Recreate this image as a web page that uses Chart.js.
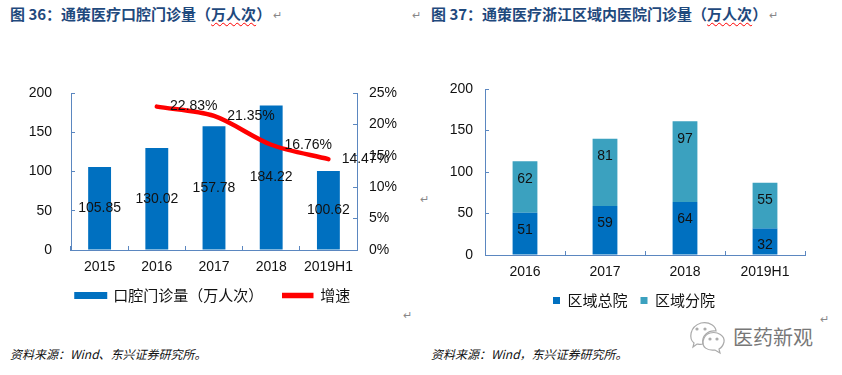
<!DOCTYPE html>
<html lang="zh">
<head>
<meta charset="utf-8">
<title>通策医疗门诊量</title>
<script src="https://cdn.jsdelivr.net/npm/chart.js@4/dist/chart.umd.min.js"></script>
<style>
  html, body { margin: 0; padding: 0; background: #fff; }
  body { position: relative; width: 842px; height: 375px; overflow: hidden; font-family: "Noto Sans CJK SC", sans-serif; }
  canvas { position: absolute; top: 60px; }
  #chart36 { left: 0; }
  #chart37 { left: 440px; }
  .title { position: absolute; top: 4px; font-size: 15px; line-height: 20px; font-weight: 700; color: #1f497d; white-space: nowrap; }
  .title span { text-decoration: underline wavy #ff0000 1px; text-underline-offset: 2px; }
  .source { position: absolute; top: 345px; font-size: 12px; line-height: 18px; font-style: italic; color: #111; white-space: nowrap; }
  .mark { position: absolute; font-size: 11px; line-height: 12px; color: #888; }
  .brand { position: absolute; left: 733px; top: 323px; font-size: 20px; line-height: 28px; color: #777; white-space: nowrap; }
  svg { position: absolute; left: 688px; top: 320px; }
</style>
</head>
<body>
<div class="title" style="left:10px">图 36：通策医疗口腔门诊量（<span>万人次</span>）</div>
<div class="title" style="left:431px">图 37：通策医疗浙江区域内医院门诊量（<span>万人次</span>）</div>
<div class="mark" style="left:273px;top:8px">↵</div>
<div class="mark" style="left:412px;top:8px">↵</div>
<div class="mark" style="left:769px;top:8px">↵</div>
<div class="mark" style="left:403px;top:308px">↵</div>
<div class="mark" style="left:820px;top:312px">↵</div>
<div class="mark" style="left:420px;top:192px">↵</div>
<canvas id="chart36" width="426" height="253"></canvas>
<canvas id="chart37" width="388" height="258"></canvas>
<div class="source" style="left:10px">资料来源：Wind、东兴证券研究所。</div>
<div class="source" style="left:431px">资料来源：Wind，东兴证券研究所。</div>
<svg width="40" height="36" viewBox="0 0 40 36" fill="none" stroke="#aaa" stroke-width="1.2">
  <path d="M6 23 C1 19 1 7 13 3 C22 1 28 7 28 11 C20 10 13 16 15 24 C12 25 10 24 9 24 L5 27 Z"/>
  <path d="M22 13 C30 11 37 16 36 22 C35 26 33 28 31 29 L32 33 L27 30 C19 31 14 27 15 21 C16 17 18 14 22 13 Z"/>
  <circle cx="9" cy="9" r="1" fill="#aaa"/><circle cx="17" cy="9" r="1" fill="#aaa"/>
  <circle cx="22" cy="19" r="1" fill="#aaa"/><circle cx="29" cy="19" r="1" fill="#aaa"/>
</svg>
<div class="brand">医药新观</div>

<script>
// values
const years36 = ['2015', '2016', '2017', '2018', '2019H1'];
const visits36 = [105.85, 130.02, 157.78, 184.22, 100.62];
const growth36 = [null, 22.83, 21.35, 16.76, 14.47];

const years37 = ['2016', '2017', '2018', '2019H1'];
const mainHospital = [51, 59, 64, 32];
const branchHospital = [62, 81, 97, 55];

const AXIS = '#5b87c0';
const CJK = '"Noto Sans CJK SC", sans-serif';
const NUMS = '"Liberation Sans", Arial, sans-serif';
const NUM_SIZE = 14;

// y axis with inward ticks, fixed width so the plot lands where it should
function valueAxis(position, width, max, step, pad, fmt) {
    return {
        position, min: 0, max,
        afterFit: s => { s.width = width; },
        border: { color: AXIS },
        grid: { drawOnChartArea: false, tickLength: -4, tickColor: AXIS },
        ticks: { stepSize: step, padding: pad, color: '#111', font: { family: NUMS, size: NUM_SIZE }, callback: fmt },
    };
}

// labels get clipped to the axis box, so height has to cover them
function categoryAxis(height, stacked) {
    return {
        stacked,
        afterFit: s => { s.height = height; },
        border: { color: AXIS },
        grid: { drawOnChartArea: false, tickLength: -4, tickColor: AXIS },
        ticks: { padding: 13, color: '#111', maxRotation: 0, font: { family: NUMS, size: NUM_SIZE } },
    };
}

// data labels, placed from the elements the library laid out
const valueLabels = {
    id: 'valueLabels',
    afterDatasetsDraw(chart, args, opts) {
        const ctx = chart.ctx;
        ctx.save();
        ctx.fillStyle = '#111';
        ctx.font = NUM_SIZE + 'px ' + NUMS;
        ctx.textAlign = 'center';
        ctx.textBaseline = 'middle';
        chart.data.datasets.forEach((ds, i) => {
            const meta = chart.getDatasetMeta(i);
            const shift = opts.shift[i];
            meta.data.forEach((el, j) => {
                if (ds.data[j] == null) return;
                const text = ds.data[j].toFixed(shift.digits) + (shift.suffix || '');
                const y = ds.type === 'line' ? el.y : el.getCenterPoint().y;
                ctx.fillText(text, el.x + (shift.dx || 0), y + (shift.dy ? shift.dy[j] : 0));
            });
        });
        ctx.restore();
    },
};

// legend padding is also the vertical gap, so the wider item gap comes from a trailing space
function legendItems36(chart) {
    const items = Chart.defaults.plugins.legend.labels.generateLabels(chart);
    items.sort((a, b) => a.datasetIndex - b.datasetIndex);
    items.forEach(it => {
        it.lineWidth = chart.data.datasets[it.datasetIndex].type === 'line' ? 1.5 : 3;
        it.strokeStyle = it.fillStyle;
    });
    items[0].text += '\u3000';
    return items;
}

new Chart(document.getElementById('chart36'), {
    type: 'bar',
    data: {
        labels: years36,
        datasets: [
            { type: 'bar', label: '口腔门诊量（万人次）', data: visits36, backgroundColor: '#0070c0', yAxisID: 'y', order: 2, barPercentage: 0.4, categoryPercentage: 1 },
            { type: 'line', label: '增速', data: growth36, borderColor: '#ff0000', backgroundColor: '#ff0000', borderWidth: 4.5, borderCapStyle: 'round', tension: 0.3, pointRadius: 0, yAxisID: 'y1', order: 1 },
        ],
    },
    options: {
        responsive: false,
        animation: false,
        layout: { padding: { top: 33 } },
        scales: {
            x: categoryAxis(26, false),
            y: valueAxis('left', 71, 200, 50, 23),
            y1: valueAxis('right', 69, 25, 5, 16, v => v + '%'),
        },
        plugins: {
            tooltip: { enabled: false },
            valueLabels: { shift: [{ digits: 2 }, { digits: 2, suffix: '%', dx: 37 }] },
            legend: {
                position: 'bottom',
                labels: { boxWidth: 30, boxHeight: 4, padding: 12, color: '#111', font: { family: CJK, size: 15 }, generateLabels: legendItems36 },
            },
        },
    },
    plugins: [valueLabels],
});

new Chart(document.getElementById('chart37'), {
    type: 'bar',
    data: {
        labels: years37,
        datasets: [
            { label: '区域总院', data: mainHospital, backgroundColor: '#0070c0', borderWidth: 0, barPercentage: 0.31, categoryPercentage: 1 },
            { label: '区域分院', data: branchHospital, backgroundColor: '#3ba1bf', borderWidth: 0, barPercentage: 0.31, categoryPercentage: 1 },
        ],
    },
    options: {
        responsive: false,
        animation: false,
        layout: { padding: { top: 29 } },
        scales: {
            x: categoryAxis(25, true),
            y: { ...valueAxis('left', 45, 200, 50, 16), stacked: true },
            // empty axis, keeps room right of the plot while the legend stays centred on the full width
            spacer: {
                position: 'right',
                afterFit: s => { s.width = 23; },
                border: { display: false },
                grid: { display: false },
                ticks: { display: false },
            },
        },
        plugins: {
            tooltip: { enabled: false },
            // the labels sit off-centre in the original
            valueLabels: { shift: [{ digits: 0, dy: [-3, -7, -9, 4] }, { digits: 0, dy: [-8, -16, -22, -5] }] },
            legend: {
                position: 'bottom',
                labels: { boxWidth: 7, boxHeight: 7, padding: 13, color: '#111', font: { family: CJK, size: 15 } },
            },
        },
    },
    plugins: [valueLabels],
});
</script>
</body>
</html>
